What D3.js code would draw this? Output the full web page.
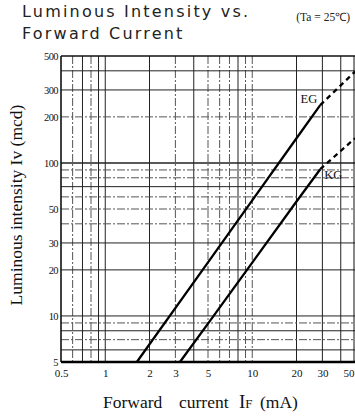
<!DOCTYPE html>
<html>
<head>
<meta charset="utf-8">
<script src="https://cdn.jsdelivr.net/npm/d3@7"></script>
<style>
html,body{margin:0;padding:0;background:#fff;}
svg{display:block;}
</style>
</head>
<body>
<script>
// ---- data ----
const xTicks = [0.5, 1, 2, 3, 5, 10, 20, 30, 50];
const xTickLabels = ["0.5", "1", "2", "3", "5", "10", "20", "30", "50"];
const yTicks = [5, 10, 20, 30, 50, 100, 200, 300, 500];
const yTickLabels = ["5", "10", "20", "30", "50", "100", "200", "300", "500"];
const xGrid = [0.6, 0.7, 0.8, 0.9, 1, 2, 3, 4, 5, 6, 7, 8, 9, 10, 20, 30, 40];
const yGrid = [6, 7, 8, 9, 10, 20, 30, 40, 50, 60, 70, 80, 90, 100, 200, 300, 400];
const xGridSolid = [0.7, 0.9, 1, 2, 4, 8, 20, 30, 40];
const yGridSolid = [6, 8, 10, 20, 30, 70, 100, 300, 400];

const egCurrent = [1.64, 5, 10, 20, 29];
const egIntensity = [5, 22.4, 57, 145, 239];
const egDashCurrent = [29, 50];
const egDashIntensity = [239, 395];
const kgCurrent = [3.22, 5, 10, 20, 29];
const kgIntensity = [5, 8.9, 22.3, 56, 91];
const kgDashCurrent = [29, 50];
const kgDashIntensity = [91, 145];

// ---- layout ----
const W = 355, H = 418;
const svg = d3.select("body").append("svg").attr("width", W).attr("height", H);
svg.append("rect").attr("width", W).attr("height", H).attr("fill", "#fff");

const x = d3.scaleLog().domain([0.5, 50]).range([61, 355]);
const y = d3.scaleLog().domain([5, 500]).range([362, 56]);

const serif = "'Liberation Serif','Times New Roman',serif";

// title
const title = svg.append("g").attr("font-family", "'DejaVu Sans',Verdana,sans-serif")
  .attr("font-size", 16).attr("fill", "#222").attr("letter-spacing", "2.2px");
title.append("text").attr("x", 22).attr("y", 17).text("Luminous Intensity vs.");
title.append("text").attr("x", 22).attr("y", 39).text("Forward Current");
svg.append("text").attr("x", 350).attr("y", 21).attr("text-anchor", "end")
  .attr("font-family", serif).attr("font-size", 11.5).attr("fill", "#222")
  .text("(Ta = 25℃)");

// grid
const grid = svg.append("g");
grid.selectAll("line.vg").data(xGrid).join("line").attr("class", "vg")
  .attr("x1", d => x(d)).attr("x2", d => x(d)).attr("y1", y(500)).attr("y2", y(5))
  .attr("stroke", d => xGridSolid.includes(d) ? "#222" : "#555")
  .attr("stroke-width", 1)
  .attr("stroke-dasharray", d => xGridSolid.includes(d) ? null : "8,2,2,2");
grid.selectAll("line.hg").data(yGrid).join("line").attr("class", "hg")
  .attr("x1", x(0.5)).attr("x2", x(50)).attr("y1", d => y(d)).attr("y2", d => y(d))
  .attr("stroke", d => yGridSolid.includes(d) ? "#222" : "#555")
  .attr("stroke-width", d => d === 100 ? 1.6 : 1)
  .attr("stroke-dasharray", d => yGridSolid.includes(d) ? null : "8,2,2,2");

// frame
svg.append("line").attr("x1", x(0.5)).attr("x2", x(50)).attr("y1", y(500)).attr("y2", y(500))
  .attr("stroke", "#111").attr("stroke-width", 1.5);
svg.append("line").attr("x1", x(0.5)).attr("x2", x(0.5)).attr("y1", y(500)).attr("y2", y(5))
  .attr("stroke", "#111").attr("stroke-width", 1.6);
svg.append("line").attr("x1", x(50) - 1).attr("x2", x(50) - 1).attr("y1", y(500)).attr("y2", y(5))
  .attr("stroke", "#111").attr("stroke-width", 1);
svg.append("line").attr("x1", x(0.5)).attr("x2", x(50)).attr("y1", y(5)).attr("y2", y(5))
  .attr("stroke", "#000").attr("stroke-width", 2.6);

// axes labels via d3 axes (no lines)
const xAxis = d3.axisBottom(x).tickValues(xTicks)
  .tickFormat((d, i) => xTickLabels[i]).tickSize(0).tickPadding(7);
const gx = svg.append("g").attr("transform", `translate(0,${y(5)})`).call(xAxis);
gx.select(".domain").remove();
gx.selectAll("text").attr("font-family", serif).attr("font-size", 11).attr("fill", "#111")
  .attr("text-anchor", (d, i) => i === xTicks.length - 1 ? "end" : "middle")
  .attr("dx", (d, i) => i === xTicks.length - 1 ? -1 : 0);

const yAxis = d3.axisLeft(y).tickValues(yTicks)
  .tickFormat((d, i) => yTickLabels[i]).tickSize(0).tickPadding(3);
const gy = svg.append("g").attr("transform", `translate(${x(0.5)},0)`).call(yAxis);
gy.select(".domain").remove();
gy.selectAll("text").attr("font-family", serif).attr("font-size", 10.5).attr("fill", "#111")
  .attr("letter-spacing", "-0.6px");

// axis titles
svg.append("text").attr("transform", `translate(22,205) rotate(-90)`)
  .attr("text-anchor", "middle").attr("font-family", serif).attr("font-size", 17.5)
  .attr("fill", "#111").text("Luminous intensity Iv (mcd)");
const xl = svg.append("text").attr("y", 408)
  .attr("font-family", serif).attr("font-size", 17.5).attr("fill", "#111");
xl.append("tspan").attr("x", 103).text("Forward");
xl.append("tspan").attr("x", 179).text("current");
xl.append("tspan").attr("x", 239).attr("font-size", 19).text("I");
xl.append("tspan").attr("font-size", 13).text("F");
xl.append("tspan").attr("x", 260).text("(mA)");

// curves
const line = d3.line().x(d => x(d[0])).y(d => y(d[1]));
const zipped = (a, b) => a.map((v, i) => [v, b[i]]);
const curves = svg.append("g").attr("fill", "none").attr("stroke", "#000");
curves.append("path").attr("d", line(zipped(egCurrent, egIntensity))).attr("stroke-width", 2.3);
curves.append("path").attr("d", line(zipped(kgCurrent, kgIntensity))).attr("stroke-width", 2.3);
curves.append("path").attr("d", line(zipped(egDashCurrent, egDashIntensity)))
  .attr("stroke-width", 2.3).attr("stroke-dasharray", "5,4");
curves.append("path").attr("d", line(zipped(kgDashCurrent, kgDashIntensity)))
  .attr("stroke-width", 2.3).attr("stroke-dasharray", "5,4");

// curve labels
svg.append("text").attr("x", x(egCurrent[4]) - 3).attr("y", y(egIntensity[4]) - 2)
  .attr("text-anchor", "end").attr("font-family", serif).attr("font-size", 12.5)
  .attr("fill", "#111").text("EG");
svg.append("text").attr("x", x(kgCurrent[4]) + 4).attr("y", y(kgIntensity[4]) + 10)
  .attr("font-family", serif).attr("font-size", 12.5)
  .attr("fill", "#111").text("KG");
</script>
</body>
</html>
